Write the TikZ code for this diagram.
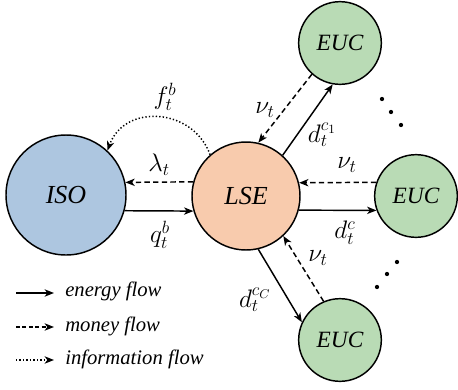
\RequirePackage{fix-cm}
\documentclass[tikz,border=0pt]{standalone}
\usepackage{fontspec}
\setmainfont{Liberation Serif}
\usetikzlibrary{arrows.meta}
\definecolor{isoblue}{HTML}{ADC6E0}
\definecolor{lseorange}{HTML}{F8CBAD}
\definecolor{eucgreen}{HTML}{B9DBB5}
\tikzset{
  px/.style={x=0.75pt,y=-0.75pt},
  bigcirc/.style={circle,draw=black,line width=1.1pt,inner sep=0pt},
  isonode/.style={bigcirc,fill=isoblue,minimum size=90pt,font=\fontsize{19.5}{22}\selectfont\itshape},
  lsenode/.style={bigcirc,fill=lseorange,minimum size=81pt,font=\fontsize{19.5}{22}\selectfont\itshape},
  eucnode/.style={bigcirc,fill=eucgreen,minimum size=62pt,font=\fontsize{17.5}{20}\selectfont\itshape},
  tip/.style={-{Stealth[length=7pt,width=5.5pt,inset=2pt]}},
  energy/.style={tip,line width=1.1pt},
  money/.style={tip,line width=1.1pt,dash pattern=on 4pt off 2.5pt},
  info/.style={tip,line width=1.1pt,dash pattern=on 1pt off 1.6pt},
  lbl/.style={font=\fontsize{19}{22}\selectfont,inner sep=0pt},
  legtxt/.style={font=\fontsize{15.5}{18}\selectfont\itshape,anchor=west,inner sep=0pt},
  ellip/.style={circle,fill=black,inner sep=0pt,minimum size=3.2pt}
}
\begin{document}
\begin{tikzpicture}[px]
\useasboundingbox (0,0) rectangle (458,390);
\node[isonode] (iso) at (66,195) {ISO};
\node[lsenode] (lse) at (246,196) {LSE};
\node[eucnode] (euct) at (340,43) {EUC};
\node[eucnode] (eucr) at (416,196) {EUC};
\node[eucnode] (eucb) at (340,340) {EUC};

% ISO - LSE
\draw[energy] (iso.-15.5) -- (lse.196);
\draw[money] (lse.165) -- (iso.12.5);
\draw[info] (lse.131) to[out=110,in=70,looseness=1.25] (iso.47);

% top EUC
\draw[energy] (lse.48) -- (euct.260);
\draw[money] (euct.228) -- (lse.77.5);
% right EUC
\draw[money] (eucr.161.5) -- (lse.14);
\draw[energy] (lse.-15) -- (eucr.200);
% bottom EUC
\draw[energy] (lse.-77.5) -- (eucb.155);
\draw[money] (eucb.113) -- (lse.-47);

% labels
\node[lbl] (lf) at (165,97) {$f_t^b$};
\node[lbl] (ll) at (159,165) {$\lambda_t$};
\node[lbl] (lq) at (160,235) {$q_t^b$};
\node[lbl] (lnt) at (265,110) {$\nu_t$};
\node[lbl] (ldt) at (322,135) {$d_t^{c_1}$};
\node[lbl] (lnr) at (347,165) {$\nu_t$};
\node[lbl] (ldr) at (345,233) {$d_t^{c}$};
\node[lbl] (lnb) at (318,258) {$\nu_t$};
\node[lbl] (ldb) at (255,300) {$d_t^{c_C}$};

% ellipses
\node[ellip] (e1) at (382,99) {};
\node[ellip] (e2) at (391,112) {};
\node[ellip] (e3) at (401,125) {};
\node[ellip] (e4) at (397,262) {};
\node[ellip] (e5) at (387,274) {};
\node[ellip] (e6) at (377,287) {};

% legend
\coordinate (a1) at (16,293); \coordinate (b1) at (54,293);
\coordinate (a2) at (16,327); \coordinate (b2) at (54,327);
\coordinate (a3) at (16,360); \coordinate (b3) at (54,360);
\draw[energy] (a1) -- (b1);
\draw[money,dash pattern=on 3pt off 1.8pt] (a2) -- (b2);
\draw[info] (a3) -- (b3);
\node[legtxt] (t1) at (65,291) {energy flow};
\node[legtxt] (t2) at (65,326) {money flow};
\node[legtxt] (t3) at (65,359) {information flow};
\end{tikzpicture}
\end{document}
